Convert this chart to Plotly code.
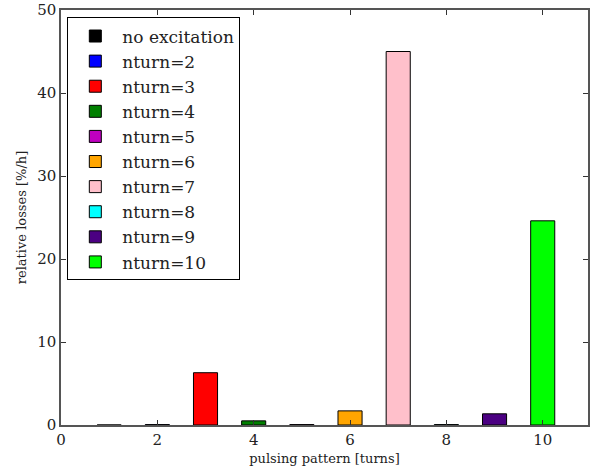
import plotly.graph_objects as go

# pulsing pattern (turns) and relative losses per pattern
labels = ["no excitation", "nturn=2", "nturn=3", "nturn=4", "nturn=5",
          "nturn=6", "nturn=7", "nturn=8", "nturn=9", "nturn=10"]
pattern = [1, 2, 3, 4, 5, 6, 7, 8, 9, 10]
losses = [0.0, 0.05, 6.3, 0.5, 0.05, 1.7, 45.0, 0.05, 1.35, 24.6]
colors = ["black", "blue", "red", "green", "#bf00bf", "orange", "pink",
          "cyan", "indigo", "lime"]

x_ticks = [0, 2, 4, 6, 8, 10]
y_ticks = [0, 10, 20, 30, 40, 50]

FONT = "DejaVu Serif"

fig = go.Figure()
for name, xv, yv, c in zip(labels, pattern, losses, colors):
    fig.add_trace(go.Bar(
        x=[xv], y=[yv], name=name, width=0.5,
        marker=dict(color=c, line=dict(color="black", width=1)),
    ))

axis_common = dict(
    showgrid=False, zeroline=False, showline=True, linecolor="#555555",
    linewidth=1.5, mirror="ticks", ticks="inside", ticklen=5,
    tickcolor="#333333", tickfont=dict(family=FONT, size=15, color="#222222"),
)

fig.update_layout(
    width=590, height=472,
    margin=dict(l=61, r=0, t=10, b=47),
    paper_bgcolor="white", plot_bgcolor="white",
    barmode="overlay",
    font=dict(family=FONT, color="#222222"),
    xaxis=dict(range=[0, 10.94], tickvals=x_ticks,
               title=dict(text="pulsing pattern [turns]",
                          font=dict(family=FONT, size=13), standoff=6),
               **axis_common),
    yaxis=dict(range=[0, 50], tickvals=y_ticks,
               title=dict(text="relative losses [%/h]",
                          font=dict(family=FONT, size=13), standoff=8),
               **axis_common),
    legend=dict(
        x=0.012, y=0.982, xanchor="left", yanchor="top",
        bgcolor="white", bordercolor="black", borderwidth=1,
        font=dict(family=FONT, size=17, color="#222222"),
        itemwidth=44, tracegroupgap=0,
    ),
)

fig.write_html("out.html")
